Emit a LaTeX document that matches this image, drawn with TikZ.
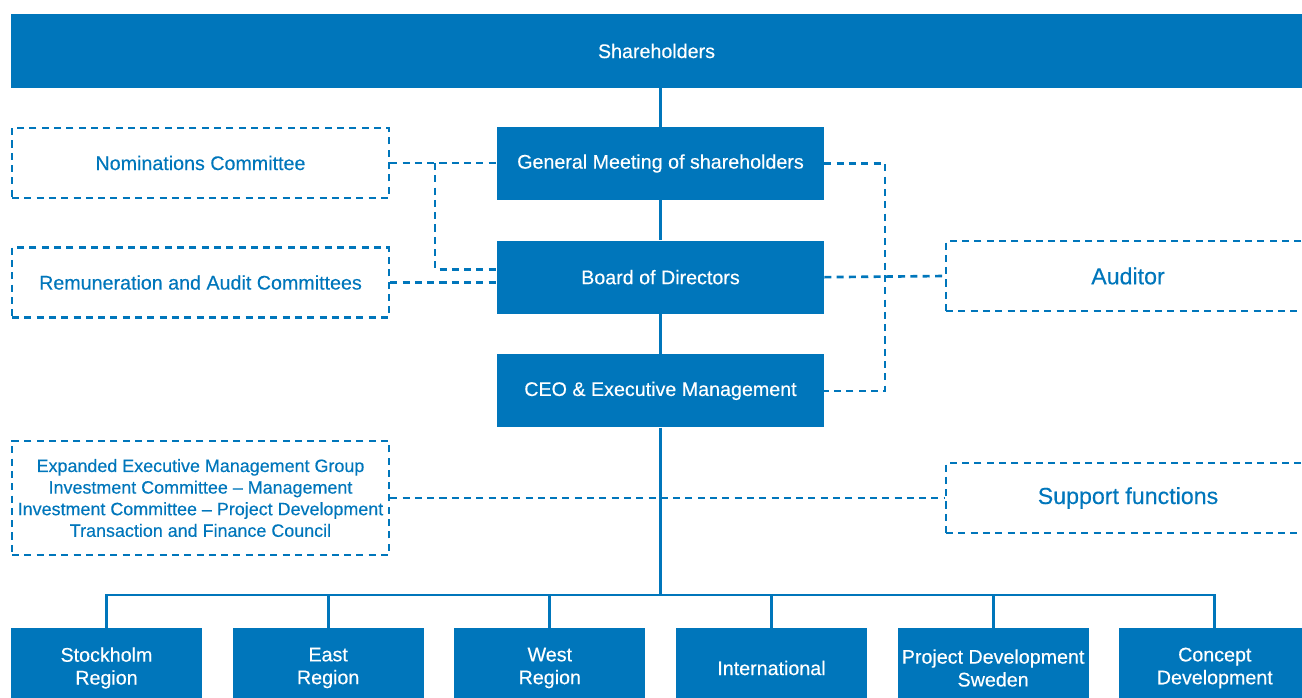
\documentclass[tikz,border=0pt]{standalone}
\usepackage{fontspec}
\setmainfont{Liberation Sans}[FakeBold=0.3]
\usepackage{xcolor}
\definecolor{OrgBlue}{RGB}{0,118,187}
\usetikzlibrary{positioning}

\begin{document}
\begin{tikzpicture}[
    x=0.02cm, y=-0.02cm,
    every node/.style={
        inner sep=0pt,
        align=center,
        font=\fontsize{11.2}{13}\selectfont
    },
    node distance=0.8cm,
    org/.style={fill=OrgBlue, text=white, minimum width=6.54cm, minimum height=1.46cm},
    unit/.style={fill=OrgBlue, text=white, minimum width=3.82cm, minimum height=1.6cm},
    committee/.style={dashlink, text=OrgBlue, minimum width=7.54cm, minimum height=1.4cm},
    link/.style={draw=OrgBlue, line width=1.6pt},
    dashlink/.style={draw=OrgBlue, line width=1.5pt, dash pattern=on 4pt off 3pt}
]
\useasboundingbox (0,0) rectangle (1302,697);
\clip (0,0) rectangle (1302,697);

% Governing bodies
\node[org, minimum width=25.82cm, minimum height=1.48cm] (share) at (656.5,51) {Shareholders};
\node[org] (gm) at (660.5,163.5) {General Meeting of shareholders};
\node[org] (board) [below=of gm] {Board of Directors};
\node[org] (ceo) [below=of board] {CEO \& Executive Management};

% Committees and side functions
\node[committee] (nom) at (200.5,163) {Nominations Committee};
\node[committee] (rem) at (200.5,282.5) {Remuneration and Audit Committees};
\node[committee, minimum height=2.28cm, font=\fontsize{10.2}{12.3}\selectfont] (groups) at (200.5,498)
    {Expanded Executive Management Group\\Investment Committee -- Management\\Investment Committee -- Project Development\\Transaction and Finance Council};
\node[committee, minimum width=7.28cm, font=\fontsize{13.2}{15}\selectfont] (auditor) at (1128,276) {Auditor};
\node[committee, minimum width=7.28cm, font=\fontsize{13.2}{15}\selectfont] (support) at (1128,498) {Support functions};

% Business units
\node[unit] (stockholm) at (106.5,668) {Stockholm\\Region};
\node[unit] (east) [right=0.6cm of stockholm] {East\\Region};
\node[unit] (west) [right=0.6cm of east] {West\\Region};
\node[unit] (international) [right=0.6cm of west] {International};
\node[unit] (devsweden) [right=0.6cm of international] {Project Development\\Sweden};
\node[unit] (concept) [right=0.6cm of devsweden] {Concept\\Development};

% Solid reporting lines
\coordinate (bus) at (660.5,595);
\draw[link] (gm.north) -- (gm.north |- share.south);
\draw[link] (gm) -- (board);
\draw[link] (board) -- (ceo);
\draw[link] (ceo) -- (bus);
\draw[link] (stockholm.north) |- (bus) -| (concept.north);
\foreach \unitname in {east, west, international, devsweden}
    \draw[link] (\unitname.north) -- (\unitname.north |- bus);

% Dashed links
\coordinate (nomtap) at (435,163);
\coordinate (audtap) at (885,276);
\draw[dashlink] (nom.east) -- (nom.east -| gm.west);
\draw[dashlink] (nomtap) |- ([yshift=0.16cm]board.west);
\draw[dashlink] (rem.east) -- (rem.east -| board.west);
\draw[dashlink] (gm.east) -| (audtap) |- (ceo.east);
\draw[dashlink] (board.east) -- (auditor.west);
\draw[dashlink] (groups.east) -- (support.west);
\end{tikzpicture}
\end{document}
